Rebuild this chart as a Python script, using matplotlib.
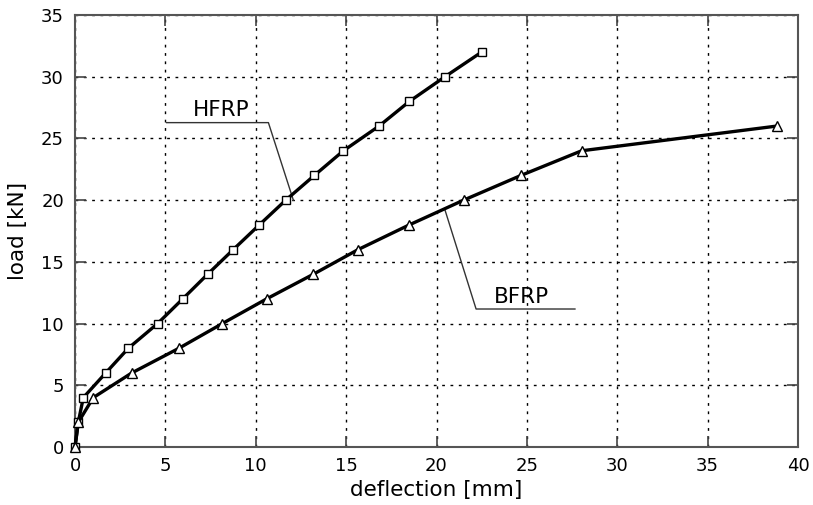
import matplotlib
matplotlib.use("Agg")
import matplotlib.pyplot as plt

#
# Data
#
load = [0, 2, 4, 6, 8, 10, 12, 14, 16, 18, 20, 22, 24, 26, 28, 30, 32]
hfrp_defl = [0, 0.18, 0.46, 1.70, 2.95, 4.57, 5.96, 7.34, 8.76, 10.2, 11.66,
             13.24, 14.85, 16.82, 18.5, 20.47, 22.5]

bfrp_load = [0, 2, 4, 6, 8, 10, 12, 14, 16, 18, 20, 22, 24, 26]
bfrp_defl = [0, 0.18, 1.01, 3.14, 5.75, 8.15, 10.6, 13.19, 15.67, 18.5, 21.5,
             24.67, 28.03, 38.82]

xticks = [0, 5, 10, 15, 20, 25, 30, 35, 40]
yticks = [0, 5, 10, 15, 20, 25, 30, 35]

#
# Plot
#
fig = plt.figure(figsize=(8.13, 5.05), dpi=100)
ax = fig.add_axes([75 / 813, 1 - 447 / 505, (798 - 75) / 813, (447 - 15) / 505])

ax.plot(hfrp_defl, load, color='k', linewidth=2.4, marker='s', markersize=6,
        markerfacecolor='white', markeredgecolor='k', markeredgewidth=1.0,
        zorder=3, clip_on=False)
ax.plot(bfrp_defl, bfrp_load, color='k', linewidth=2.4, marker='^', markersize=6.5,
        markerfacecolor='white', markeredgecolor='k', markeredgewidth=1.0,
        zorder=3, clip_on=False)

# Leader lines and labels
ax.plot([5.07, 10.7, 12.08], [26.28, 26.28, 20.0], color='#333333', linewidth=1.0, zorder=2)
ax.text(8.1, 26.5, "HFRP", fontsize=15.5, ha='center', va='bottom')
ax.plot([20.47, 22.19, 27.66], [19.2, 11.18, 11.18], color='#333333', linewidth=1.0, zorder=2)
ax.text(24.68, 11.35, "BFRP", fontsize=15.5, ha='center', va='bottom')

ax.set_xlim(0, 40)
ax.set_ylim(0, 35)
ax.set_xticks(xticks)
ax.set_yticks(yticks)
ax.tick_params(direction='in', length=8, width=1.2, labelsize=13, color='#444444',
               top=True, right=True)
ax.tick_params(axis='x', pad=7)
ax.tick_params(axis='y', pad=8)
ax.grid(True, color='k', linestyle=(0, (2, 4)), linewidth=1.0)
for s in ax.spines.values():
    s.set_color('#555555')
    s.set_linewidth(1.5)

ax.set_xlabel("deflection [mm]", fontsize=15.5, labelpad=4)
ax.set_ylabel("load [kN]", fontsize=15.5, labelpad=9)

fig.savefig("out.png", dpi=100)
